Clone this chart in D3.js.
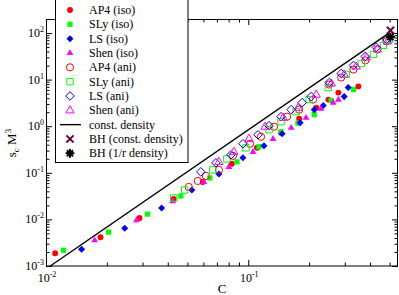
<!DOCTYPE html>
<html lang="en">
  <head>
    <meta charset="utf-8" />
    <title>s_c M^3 vs C</title>
    <style>
      body { margin: 0; background: #fff; }
      svg { display: block; }
      svg text { font-family: "Liberation Serif", "Times New Roman", "DejaVu Serif", serif; }
    </style>
  </head>
  <body>
    <div id="chart"></div>
    <script src="https://d3js.org/d3.v7.min.js"></script>
<script>
// values, [C, s_c M^3]
var ap4Iso = [[0.0111,0.00188],[0.0186,0.00415],[0.0290,0.0107],[0.0428,0.0274],[0.0596,0.0637],[0.0830,0.156],[0.1105,0.344],[0.145,0.724],[0.1785,1.45],[0.217,2.50],[0.249,3.73],[0.279,5.27],[0.350,7.10]];
var slyIso = [[0.0122,0.00218],[0.0204,0.00533],[0.0318,0.0130],[0.0464,0.0318],[0.0646,0.0777],[0.0879,0.172],[0.113,0.362],[0.145,0.761],[0.176,1.16],[0.212,1.77],[0.257,3.55],[0.331,6.12]];
var lsIso = [[0.0150,0.00229],[0.0245,0.00649],[0.0373,0.0175],[0.0526,0.0428],[0.0716,0.0947],[0.0941,0.2095],[0.1196,0.380],[0.147,0.689],[0.1805,1.19],[0.212,2.27],[0.235,2.77],[0.298,4.32],[0.312,6.76]];
var shenIso = [[0.0174,0.00358],[0.0280,0.00966],[0.0423,0.0248],[0.0603,0.0637],[0.0802,0.134],[0.1055,0.282],[0.1326,0.538],[0.163,0.928],[0.193,1.525],[0.229,2.38],[0.263,3.21],[0.279,3.73]];

var ap4Ani = [[0.0508,0.0497],[0.0563,0.0669],[0.0617,0.0858],[0.0716,0.1155],[0.0840,0.231],[0.102,0.420],[0.1156,0.594],[0.1341,0.976],[0.1556,1.60],[0.1785,2.27],[0.209,3.73],[0.251,7.84],[0.288,11.1],[0.331,16.5],[0.379,25.8],[0.435,44.5],[0.482,66.2]];
var slyAni = [[0.0428,0.0288],[0.0485,0.0428],[0.0668,0.1155],[0.0784,0.199],[0.0974,0.344],[0.1267,0.8405],[0.1453,1.25],[0.1725,2.05],[0.200,3.725],[0.2485,6.76],[0.305,12.9],[0.362,22.2],[0.416,34.75],[0.466,54.3],[0.499,73.2]];
var lsAni = [[0.0583,0.1046],[0.0692,0.1635],[0.0821,0.243],[0.0941,0.420],[0.1117,0.656],[0.1267,1.025],[0.1453,1.60],[0.1629,2.27],[0.1847,3.21],[0.2046,4.32],[0.2514,8.66],[0.288,13.5],[0.331,20.1],[0.379,31.5],[0.430,49.2],[0.482,73.2]];
var shenAni = [[0.0716,0.172],[0.0849,0.282],[0.1008,0.538],[0.121,0.976],[0.1487,1.525],[0.1764,2.50],[0.2167,4.77],[0.2572,8.24],[0.2984,12.9],[0.3422,19.2],[0.3837,29.95],[0.4349,44.5],[0.4876,66.2]];

var constDensity = [[0.0105,0.001],[0.5,102]];
var bhConst = [[0.5046,114]];
var bhOneOverR = [[0.5046,82]];

var legendLabels = ["AP4 (iso)","SLy (iso)","LS (iso)","Shen (iso)","AP4 (ani)","SLy (ani)","LS (ani)","Shen (ani)","const. density","BH (const. density)","BH (1/r density)"];

var width = 399,
  height = 295;

var x = d3.scaleLog().domain([0.01, 0.55]).range([46, 398]);
var y = d3.scaleLog().domain([0.001, 200]).range([266, 19]);

var svg = d3.select("#chart")
  .append("svg")
  .attr("width", width)
  .attr("height", height)
  .attr("font-family", "'Liberation Serif', 'Times New Roman', serif");

// filled marks come out a bit smaller than the open ones
function symPath(type, filled) {
  var k = filled ? 0.82 : 1;
  if (type == "circle") return d3.symbol(d3.symbolCircle, Math.PI * 3.6 * 3.6 * k * k)();
  if (type == "square") return "M" + (-3.2 * k) + "," + (-3.2 * k) + "h" + (6.4 * k) + "v" + (6.4 * k) + "h" + (-6.4 * k) + "Z";
  if (type == "diamond") return "M0," + (-4.3 * k) + "L" + (4.3 * k) + ",0L0," + (4.3 * k) + "L" + (-4.3 * k) + ",0Z";
  if (type == "triangle") return "M0," + (-4.6 * k) + "L" + (4.1 * k) + "," + (2.6 * k) + "L" + (-4.1 * k) + "," + (2.6 * k) + "Z";
  if (type == "x") return "M-3.6,-3.6L3.6,3.6M-3.6,3.6L3.6,-3.6";
  if (type == "star") return "M-4.4,0H4.4M0,-4.4V4.4M-3.1,-3.1L3.1,3.1M-3.1,3.1L3.1,-3.1";
}

var series = [
  {data: ap4Iso, type: "circle", color: "#ff0000", filled: true},
  {data: slyIso, type: "square", color: "#00ff00", filled: true},
  {data: lsIso, type: "diamond", color: "#0000ff", filled: true},
  {data: shenIso, type: "triangle", color: "#ff00ff", filled: true},
  {data: ap4Ani, type: "circle", color: "#ff0000", filled: false},
  {data: slyAni, type: "square", color: "#00ff00", filled: false},
  {data: lsAni, type: "diamond", color: "#0000ff", filled: false},
  {data: shenAni, type: "triangle", color: "#ff00ff", filled: false},
  {data: constDensity, type: "line", color: "#000000"},
  {data: bhConst, type: "x", color: "#670748"},
  {data: bhOneOverR, type: "star", color: "#000000"}
];

function styleSym(sel, s) {
  if (s.type == "x" || s.type == "star") {
    sel.attr("fill", "none").attr("stroke", s.color).attr("stroke-width", 2);
  } else if (s.filled) {
    sel.attr("fill", s.color).attr("stroke", "none");
  } else {
    sel.attr("fill", "none").attr("stroke", s.color).attr("stroke-width", 1);
  }
}

// ticks, inward on all four sides
function isMajor(v) { return Math.abs(Math.log10(v) - Math.round(Math.log10(v))) < 1e-6; }
var xMajor = x.ticks().filter(isMajor),
  xMinor = x.ticks().filter(function(v) { return !isMajor(v); });
var yMajor = y.ticks().filter(isMajor),
  yMinor = y.ticks().filter(function(v) { return !isMajor(v) && v < 200; });

function addAxis(axis, tx, ty) {
  var g = svg.append("g")
    .attr("transform", "translate(" + tx + "," + ty + ")")
    .call(axis.tickFormat(""));
  g.select(".domain").remove();
  g.selectAll("line").attr("stroke", "#000");
}
addAxis(d3.axisBottom(x).tickValues(xMajor).tickSize(-6), 0, 266);
addAxis(d3.axisBottom(x).tickValues(xMinor).tickSize(-3.5), 0, 266);
addAxis(d3.axisTop(x).tickValues(xMajor).tickSize(-6), 0, 19);
addAxis(d3.axisTop(x).tickValues(xMinor).tickSize(-3.5), 0, 19);
addAxis(d3.axisLeft(y).tickValues(yMajor).tickSize(-6), 46, 0);
addAxis(d3.axisLeft(y).tickValues(yMinor).tickSize(-3.5), 46, 0);
addAxis(d3.axisRight(y).tickValues(yMajor).tickSize(-6), 398, 0);
addAxis(d3.axisRight(y).tickValues(yMinor).tickSize(-3.5), 398, 0);

// tick labels 10^n
function powLabel(sel, v) {
  var e = Math.round(Math.log10(v));
  sel.append("tspan").text("10");
  sel.append("tspan").attr("dy", -5).attr("font-size", 8).text(e);
}
xMajor.forEach(function(v) {
  svg.append("text")
    .attr("x", x(v) + 1).attr("y", 282)
    .attr("text-anchor", "middle").attr("font-size", 12)
    .call(powLabel, v);
});
yMajor.forEach(function(v) {
  svg.append("text")
    .attr("x", 44).attr("y", y(v) + 4)
    .attr("text-anchor", "end").attr("font-size", 12)
    .call(powLabel, v);
});

svg.append("text")
  .attr("x", 222).attr("y", 293)
  .attr("text-anchor", "middle").attr("font-size", 13)
  .text("C");

var ylab = svg.append("text")
  .attr("transform", "translate(16,143) rotate(-90)")
  .attr("text-anchor", "middle").attr("font-size", 13);
ylab.append("tspan").text("s");
ylab.append("tspan").attr("dy", 3).attr("font-size", 9).text("c");
ylab.append("tspan").attr("dy", -3).text(" M");
ylab.append("tspan").attr("dy", -5).attr("font-size", 9).text("3");

// data
var plot = svg.append("g");
series.forEach(function(s) {
  if (s.type == "line") {
    plot.append("path")
      .attr("d", d3.line().x(function(d) { return x(d[0]); }).y(function(d) { return y(d[1]); })(s.data))
      .attr("fill", "none").attr("stroke", s.color).attr("stroke-width", 1.4);
    return;
  }
  plot.selectAll(null)
    .data(s.data)
    .enter().append("path")
    .attr("transform", function(d) { return "translate(" + x(d[0]) + "," + y(d[1]) + ")"; })
    .attr("d", symPath(s.type, s.filled))
    .call(styleSym, s);
});

svg.append("rect")
  .attr("x", 46.5).attr("y", 19.5)
  .attr("width", 351).attr("height", 246.5)
  .attr("fill", "none").attr("stroke", "#000");

// legend
var lg = svg.append("g");
lg.append("rect")
  .attr("x", 55.5).attr("y", -1.5)
  .attr("width", 132.5).attr("height", 164)
  .attr("fill", "#fff").attr("stroke", "#000");
series.forEach(function(s, i) {
  var cy = 10 + i * 14.33;
  if (s.type == "line") {
    lg.append("line")
      .attr("x1", 60).attr("x2", 81).attr("y1", cy).attr("y2", cy)
      .attr("stroke", s.color).attr("stroke-width", 1.4);
  } else {
    lg.append("path")
      .attr("transform", "translate(70," + cy + ")")
      .attr("d", symPath(s.type, s.filled))
      .call(styleSym, s);
  }
  lg.append("text")
    .attr("x", 89).attr("y", cy + 4)
    .attr("font-size", 12)
    .text(legendLabels[i]);
});
</script>
  </body>
</html>
